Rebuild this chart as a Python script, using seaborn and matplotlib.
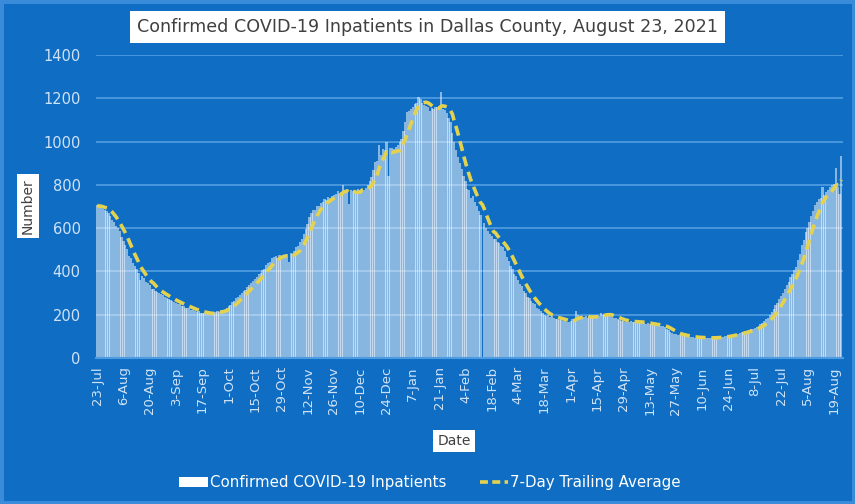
import numpy as np
import pandas as pd
import matplotlib
matplotlib.use("Agg")
import matplotlib.pyplot as plt
from matplotlib.patches import Patch, Rectangle
from matplotlib.lines import Line2D
import seaborn as sns

# Daily confirmed COVID-19 inpatients, Dallas County, from 23-Jul-2020 (one row per week)
inpatients = [
    705, 698, 702, 690, 686, 680, 672,
    655, 636, 630, 612, 600, 588, 560,
    540, 520, 505, 470, 462, 438, 425,
    412, 395, 360, 380, 368, 352, 346,
    336, 320, 318, 308, 305, 298, 296,
    290, 282, 275, 274, 266, 265, 258,
    255, 250, 249, 240, 240, 233, 232,
    229, 224, 222, 216, 214, 215, 210,
    209, 206, 208, 204, 205, 203, 209,
    212, 216, 214, 220, 219, 224, 232,
    240, 246, 259, 264, 276, 280, 293,
    302, 310, 316, 330, 335, 348, 354,
    366, 372, 388, 392, 408, 412, 428,
    438, 444, 460, 465, 470, 462, 474,
    471, 476, 478, 480, 445, 484, 482,
    495, 512, 518, 536, 548, 575, 598,
    618, 650, 668, 682, 685, 700, 702,
    715, 720, 735, 730, 742, 738, 750,
    752, 758, 772, 760, 768, 800, 772,
    775, 710, 778, 770, 776, 772, 780,
    776, 780, 778, 784, 800, 820, 838,
    870, 905, 912, 985, 940, 965, 960,
    1000, 840, 968, 970, 965, 975, 985,
    998, 1010, 1050, 1092, 1135, 1140, 1150,
    1160, 1175, 1180, 1205, 1195, 1180, 1170,
    1165, 1160, 1140, 1155, 1150, 1160, 1158,
    1150, 1230, 1150, 1145, 1130, 1110, 1090,
    1040, 1000, 960, 930, 900, 875, 840,
    820, 780, 775, 740, 750, 720, 700,
    680, 662, None, 625, 600, 585, 572,
    565, 550, 548, 535, 530, 518, 512,
    495, 468, 450, 425, 410, 388, 378,
    362, 340, 332, 310, 300, 280, 275,
    265, 252, 248, 232, 228, 215, 210,
    200, 195, 197, 188, 192, 184, 182,
    182, 176, 178, 170, 174, 165, 168,
    172, 178, 182, 215, 200, 185, 190,
    188, 195, 185, 192, 190, 186, 194,
    192, 196, 210, 198, 205, 200, 198,
    194, 190, 185, 184, 178, 176, 170,
    172, 168, 171, 166, 170, 165, 168,
    168, 164, 166, 162, 163, 158, 160,
    156, 157, 152, 154, 150, 152, 148,
    146, 142, 133, 130, 120, 116, 112,
    110, 108, 107, 104, 104, 100, 99,
    98, 95, 97, 94, 96, 93, 95,
    92, 94, 91, 93, 94, 92, 95,
    96, 94, 97, 95, 98, 100, 102,
    104, 106, 106, 110, 112, 112, 116,
    118, 122, 125, 126, 130, 133, 135,
    139, 143, 150, 158, 163, 172, 180,
    186, 198, 212, 225, 243, 255, 272,
    287, 302, 318, 336, 350, 372, 388,
    405, 422, 455, 480, 520, 545, 580,
    600, 630, 655, 680, 705, 720, 735,
    740, 790, 752, 765, 775, 790, 800,
    805, 880, 790, 760, 935,
]

tick_labels = ["23-Jul", "6-Aug", "20-Aug", "3-Sep", "17-Sep", "1-Oct", "15-Oct",
               "29-Oct", "12-Nov", "26-Nov", "10-Dec", "24-Dec", "7-Jan", "21-Jan",
               "4-Feb", "18-Feb", "4-Mar", "18-Mar", "1-Apr", "15-Apr", "29-Apr",
               "13-May", "27-May", "10-Jun", "24-Jun", "8-Jul", "22-Jul", "5-Aug",
               "19-Aug"]

df = pd.DataFrame({"count": pd.to_numeric(pd.Series(inpatients), errors="coerce")})
df["day"] = np.arange(len(df))
df["date"] = pd.date_range("2020-07-23", periods=len(df), freq="D")
df["avg7"] = df["count"].rolling(7, min_periods=1).mean()

bg = "#0F6EC4"
grid_c = "#4E9BE0"
label_c = "#CFE2F6"

sns.set_style("white")
plt.rcParams["font.family"] = ["DejaVu Sans"]

fig = plt.figure(figsize=(8.55, 5.04), dpi=100, facecolor=bg)
fig.patches.append(Rectangle((0, 0), 1, 1, transform=fig.transFigure, fill=False,
                             edgecolor="#3A8CDB", linewidth=5))
ax = fig.add_axes([0.1123, 0.2897, 0.8737, 0.6012])
ax.set_facecolor(bg)

sns.barplot(data=df.dropna(subset=["count"]), x="day", y="count", native_scale=True,
            color="white", alpha=0.5, width=1.2, linewidth=0, ax=ax, zorder=2)
sns.lineplot(data=df, x="day", y="avg7", color="#E4D24E", linewidth=2.6,
             linestyle=(0, (2.8, 1.6)), ax=ax, zorder=3)

ax.set_xlim(-0.6, 396.9)
ax.set_ylim(0, 1400)
ax.set_yticks(range(0, 1401, 200))
ax.set_xticks(np.arange(0, len(df), 14))
ax.set_xticklabels(tick_labels, rotation=90)
ax.grid(axis="y", color=grid_c, linewidth=1.3, zorder=0)
ax.set_axisbelow(True)
for s in ["top", "right", "left"]:
    ax.spines[s].set_visible(False)
ax.spines["bottom"].set_color(grid_c)
ax.spines["bottom"].set_linewidth(1.5)
ax.tick_params(axis="x", colors=label_c, labelsize=9.5, length=4, width=1, color=grid_c,
               direction="out", pad=2)
ax.tick_params(axis="y", colors=label_c, labelsize=10.5, length=0, pad=11)
ax.set_xlabel("")
ax.set_ylabel("")

box = dict(boxstyle="square,pad=0.3", fc="white", ec="none")
fig.text(0.5, 1 - 27 / 504, "Confirmed COVID-19 Inpatients in Dallas County, August 23, 2021",
         ha="center", va="center", fontsize=12.6, color="#404040",
         bbox=dict(boxstyle="square,pad=0.4", fc="white", ec="none"))
fig.text(28 / 855, 1 - 206 / 504, "Number", rotation=90, ha="center", va="center",
         fontsize=10, color="#404040", bbox=box)
fig.text(454 / 855, 1 - 441 / 504, "Date", ha="center", va="center",
         fontsize=10, color="#404040", bbox=box)

handles = [Patch(facecolor="white", edgecolor="none"),
           Line2D([], [], color="#E4D24E", linewidth=2.6, linestyle=(0, (2.2, 1.2)))]
fig.legend(handles, ["Confirmed COVID-19 Inpatients", "7-Day Trailing Average"],
           loc="center", bbox_to_anchor=(0.503, 1 - 483 / 504), ncol=2, frameon=False,
           fontsize=10.8, labelcolor="white", handlelength=1.9, handleheight=0.6,
           columnspacing=2.2, handletextpad=0.15)

fig.savefig("out.png", dpi=100, facecolor=bg)
